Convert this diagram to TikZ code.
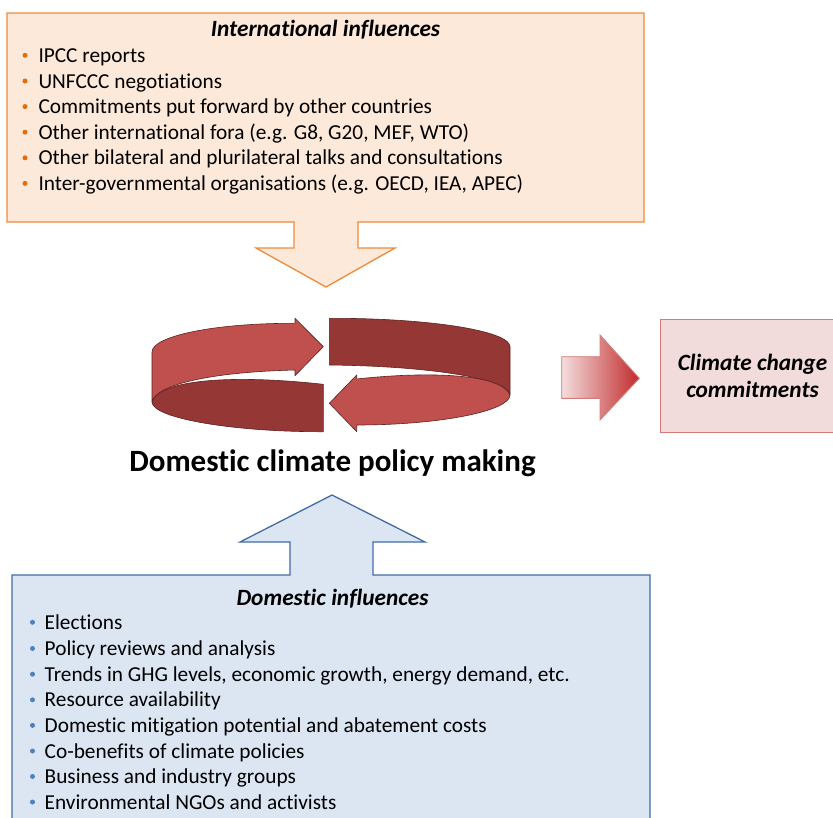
\documentclass[tikz,border=0pt]{standalone}
\usepackage{fontspec}
\setmainfont[Ligatures=NoCommon]{Carlito}
\definecolor{orFill}{HTML}{FDE9D9}
\definecolor{orLine}{HTML}{EE8A3C}
\definecolor{orBullet}{HTML}{E46C0A}
\definecolor{blFill}{HTML}{DCE6F2}
\definecolor{blLine}{HTML}{416CA6}
\definecolor{blBullet}{HTML}{4F81BD}
\definecolor{redL}{HTML}{C0504D}
\definecolor{redD}{HTML}{953735}
\definecolor{redO}{HTML}{5E2220}
\definecolor{pkFill}{HTML}{F2DCDB}
\definecolor{pkLine}{HTML}{D47A78}
\definecolor{pkL}{HTML}{F3DEDD}
\definecolor{redG}{HTML}{C22A2C}
\tikzset{
  listtext/.style={anchor=base west, inner sep=0pt, font=\fontsize{21.3}{25}\selectfont},
  titletext/.style={anchor=base, inner sep=0pt, font=\fontsize{23.3}{27}\selectfont\bfseries\itshape},
  ringlight/.style={fill=redL, draw=redO, line width=0.6pt, line join=round},
  ringdark/.style={fill=redD, draw=redO, line width=0.6pt, line join=round},
}
\newcommand{\obul}[1]{\fill[orBullet] (25,#1-7) circle (2.5);}
\newcommand{\bbul}[1]{\fill[blBullet] (32.5,#1-7) circle (2.5);}
\begin{document}
\begin{tikzpicture}[x=1pt,y=-1pt]
\useasboundingbox (0,0) rectangle (833,817);
\clip (0,0) rectangle (833,817);
% International influences box with down arrow
\filldraw[fill=orFill, draw=orLine, line width=1.3pt, line join=miter]
  (7,13) -- (644,13) -- (644,222) -- (358,222) -- (358,248) -- (395,248)
  -- (326,287) -- (256,248) -- (294,248) -- (294,222) -- (7,222) -- cycle;
\node[titletext] (intT) at (325.5,36) {International influences};
\foreach \y/\t [count=\i] in {62.3/IPCC reports, 88/UNFCCC negotiations,
  113.6/Commitments put forward by other countries,
  139.2/{Other international fora (e.g. G8, G20, MEF, WTO)},
  164.8/Other bilateral and plurilateral talks and consultations,
  190.4/{Inter-governmental organisations (e.g. OECD, IEA, APEC)}}{
  \obul{\y}
  \node[listtext] (int\i) at (38.3,\y) {\t};
}
% Domestic influences box with up arrow
\filldraw[fill=blFill, draw=blLine, line width=1.3pt, line join=miter]
  (12,840) -- (12,575) -- (290,575) -- (290,542) -- (240,542) -- (332,495)
  -- (425,542) -- (373,542) -- (373,575) -- (650,575) -- (650,840);
\node[titletext] (domT) at (332.5,605) {Domestic influences};
\foreach \y/\t [count=\i] in {629.3/Elections, 655.5/Policy reviews and analysis,
  681.2/{Trends in GHG levels, economic growth, energy demand, etc.},
  706.8/Resource availability,
  732.4/Domestic mitigation potential and abatement costs,
  758/Co-benefits of climate policies,
  783.5/Business and industry groups,
  809/Environmental NGOs and activists}{
  \bbul{\y}
  \node[listtext] (dom\i) at (44.5,\y) {\t};
}
% Circular arrow
\path[ringdark] (152,402) .. controls (158,380) and (230,374) .. (323.3,384.3)
  -- (323.3,431.7) .. controls (232,432) and (152,418) .. (152,402) -- cycle;
\path[ringlight] (152,352) .. controls (152,336) and (215,323) .. (295,323.3)
  -- (295,318.3) -- (323.3,346.7) -- (295,375.7) -- (295,370)
  .. controls (210,372) and (155,385) .. (152,402) -- cycle;
\path[ringdark] (329.3,318.3) .. controls (430,318) and (510,331) .. (510,346.7)
  -- (510,395) .. controls (510,379) and (430,366) .. (329.3,365) -- cycle;
\path[ringlight] (510,395) .. controls (510,411) and (440,425) .. (356.7,425)
  -- (356.7,431.7) -- (329.3,403.3) -- (356.7,375) -- (356.7,379)
  .. controls (420,372) and (500,372) .. (510,395) -- cycle;
\node[anchor=base, inner sep=0pt, font=\fontsize{31}{36}\selectfont\bfseries] (dcpm) at (332.5,471) {Domestic climate policy making};
% Gradient arrow to commitments
\shadedraw[left color=pkL, right color=redG, draw=pkLine, line width=0.9pt]
  (561.7,356.7) -- (600,356.7) -- (600,335) -- (639.3,378.3) -- (600,420)
  -- (600,398.3) -- (561.7,398.3) -- cycle;
\filldraw[fill=pkFill, draw=pkLine, line width=1.2pt] (660.7,319.3) rectangle (850,432.7);
\node[titletext] (cc1) at (752.5,370.5) {Climate change};
\node[titletext] (cc2) at (752.5,397) {commitments};
\end{tikzpicture}
\end{document}
